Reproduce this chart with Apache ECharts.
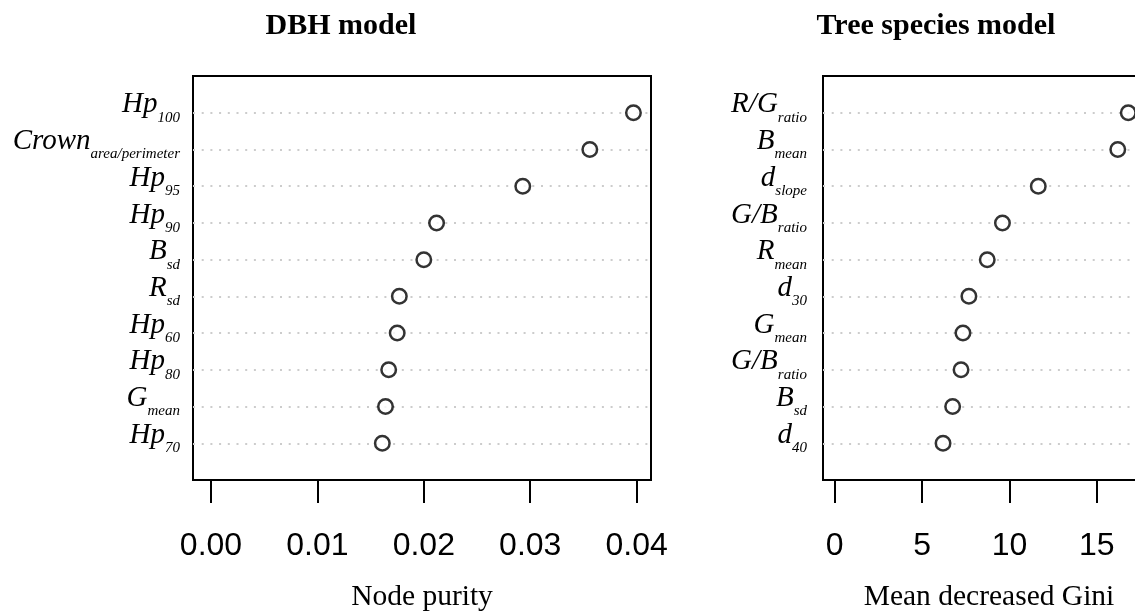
<!DOCTYPE html>
<html>
<head>
<meta charset="utf-8">
<script src="https://cdn.jsdelivr.net/npm/echarts@6/dist/echarts.min.js"></script>
<style>
  html, body { margin: 0; padding: 0; background: #fff; }
  #chart { width: 1135px; height: 614px; }
</style>
</head>
<body>
<div id="chart"></div>
<script>
// ---- Data (top row first) ----
const dbhMain = ['Hp', 'Crown', 'Hp', 'Hp', 'B', 'R', 'Hp', 'Hp', 'G', 'Hp'];
const dbhSub = ['100', 'area/perimeter', '95', '90', 'sd', 'sd', '60', '80', 'mean', '70'];
const dbhValues = [0.0397, 0.0356, 0.0293, 0.0212, 0.0200, 0.0177, 0.0175, 0.0167, 0.0164, 0.0161];
const dbhTicks = [0, 0.01, 0.02, 0.03, 0.04];

const spMain = ['R/G', 'B', 'd', 'G/B', 'R', 'd', 'G', 'G/B', 'B', 'd'];
const spSub = ['ratio', 'mean', 'slope', 'ratio', 'mean', '30', 'mean', 'ratio', 'sd', '40'];
const spValues = [16.8, 16.2, 11.65, 9.6, 8.73, 7.68, 7.34, 7.23, 6.75, 6.2];
const spTicks = [0, 5, 10, 15];

const titles = ['DBH model', 'Tree species model'];
const xNames = ['Node purity', 'Mean decreased Gini'];

// ---- helpers ----
const SERIF = 'Liberation Serif';
const SANS = 'Liberation Sans';
const n = dbhValues.length;
const rowIdx = Array.from({length: n}, (_, i) => i + 1);

function toPoints(vals) { return vals.map((v, i) => [v, n - i]); }
function labelFor(mains, subs) {
  return function (v) {
    const i = n - Math.round(v);
    if (i < 0 || i >= n) return '';
    return '{m|' + mains[i] + '}{s|' + subs[i] + '}';
  };
}
const richLab = {
  m: { fontFamily: SERIF, fontStyle: 'italic', fontSize: 29, color: '#000', padding: [0, 0, 16, 0] },
  s: { fontFamily: SERIF, fontStyle: 'italic', fontSize: 15, color: '#000', padding: [10, 0, 0, 0] }
};

function xAxisCfg(gi, min, max, ticks, fmt, name, nameGap) {
  return {
    type: 'value', gridIndex: gi, min: min, max: max,
    name: name, nameLocation: 'middle', nameGap: nameGap,
    nameTextStyle: { fontFamily: SERIF, fontSize: 29.5, color: '#000' },
    axisLine: { show: false },
    axisTick: { show: true, length: 23, customValues: ticks, lineStyle: { color: '#000', width: 2 } },
    axisLabel: { show: true, customValues: ticks, formatter: fmt, margin: 50,
      fontFamily: SANS, fontSize: 32, color: '#000' },
    splitLine: { show: false }
  };
}
function yAxisCfg(gi, mains, subs, margin) {
  return {
    type: 'value', gridIndex: gi, min: 0, max: n + 1,
    axisLine: { show: false },
    axisTick: { show: false, customValues: rowIdx },
    axisLabel: { show: true, customValues: rowIdx, formatter: labelFor(mains, subs), margin: margin,
      rich: richLab },
    splitLine: { show: true, lineStyle: { color: '#cccccc', width: 2, type: [2, 6.7], cap: 'butt' } }
  };
}
const symbolStyle = { color: '#fff', borderColor: '#000', borderWidth: 2.5 };
const titleStyle = { fontFamily: SERIF, fontWeight: 'bold', fontSize: 30, color: '#000' };

const option = {
  backgroundColor: '#fff',
  animation: false,
  title: [
    { text: titles[0], left: 341, top: 11, padding: 0, textAlign: 'center', textStyle: titleStyle },
    { text: titles[1], left: 936, top: 11, padding: 0, textAlign: 'center', textStyle: titleStyle }
  ],
  grid: [
    { left: 193, top: 76, width: 458, height: 404, show: true, borderColor: '#000', borderWidth: 2,
      backgroundColor: 'transparent', outerBoundsMode: 'none', containLabel: false },
    { left: 823, top: 76, width: 332, height: 404, show: true, borderColor: '#000', borderWidth: 2,
      backgroundColor: 'transparent', outerBoundsMode: 'none', containLabel: false }
  ],
  xAxis: [
    xAxisCfg(0, -0.00169, 0.04135, dbhTicks, v => v.toFixed(2), xNames[0], 102),
    xAxisCfg(1, -0.669, 18.33, spTicks, v => String(v), xNames[1], 102)
  ],
  yAxis: [
    yAxisCfg(0, dbhMain, dbhSub, 13),
    yAxisCfg(1, spMain, spSub, 16)
  ],
  series: [
    { type: 'scatter', xAxisIndex: 0, yAxisIndex: 0, data: toPoints(dbhValues),
      symbol: 'circle', symbolSize: 14.5, itemStyle: symbolStyle, clip: false },
    { type: 'scatter', xAxisIndex: 1, yAxisIndex: 1, data: toPoints(spValues),
      symbol: 'circle', symbolSize: 14.5, itemStyle: symbolStyle, clip: false }
  ]
};
const chart = echarts.init(document.getElementById('chart'), null, { renderer: 'canvas' });
chart.setOption(option);
</script>
</body>
</html>
